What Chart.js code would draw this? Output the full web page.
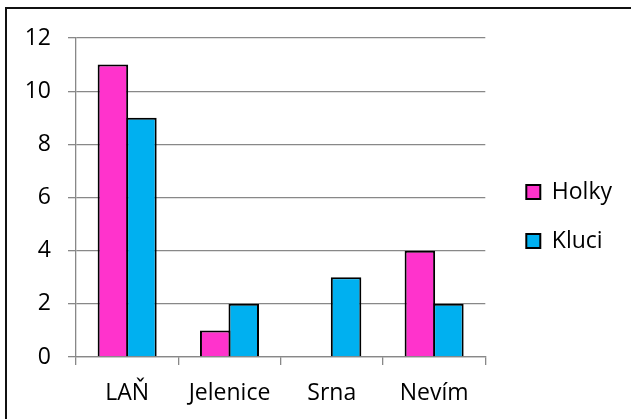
<!DOCTYPE html>
<html>
<head>
<meta charset="utf-8">
<script src="https://cdn.jsdelivr.net/npm/chart.js@4/dist/chart.umd.min.js"></script>
<style>
  html, body { margin: 0; padding: 0; background: #fff; overflow: hidden; }
  #wrap { position: absolute; left: 0; top: 0; width: 631px; height: 419px; }
  #frame { position: absolute; left: 5px; top: 7px; width: 700px; height: 500px;
           border-left: 2px solid #111; border-top: 2px solid #111; pointer-events: none; }
</style>
</head>
<body>
<div id="wrap"><canvas id="c" width="631" height="419"></canvas></div>
<div id="frame"></div>
<script>
const categories = ['LAŇ', 'Jelenice', 'Srna', 'Nevím'];
const holky = [11, 1, 0, 4];
const kluci = [9, 2, 3, 2];
const seriesNames = ['Holky', 'Kluci'];
const yTicks = { min: 0, max: 12, step: 2 };

const FONT = "'Open Sans', 'Noto Sans', sans-serif";
const GRID = '#888888';

const legendShift = {
  id: 'legendShift',
  afterLayout(chart) {
    const l = chart.legend;
    if (l) { l.left += 15; l.right += 15; l.top += 19; l.bottom += 19; }
  }
};

new Chart(document.getElementById('c'), {
  type: 'bar',
  data: {
    labels: categories,
    datasets: [
      { label: seriesNames[0], data: holky, backgroundColor: '#FF33CC', borderColor: '#000', borderWidth: 2,
        categoryPercentage: 0.5575, barPercentage: 1.07 },
      { label: seriesNames[1], data: kluci, backgroundColor: '#00B0F0', borderColor: '#000', borderWidth: 2,
        categoryPercentage: 0.5575, barPercentage: 1.07 }
    ]
  },
  options: {
    responsive: false,
    animation: false,
    devicePixelRatio: 1,
    layout: { padding: { top: 38, left: 0, right: 24, bottom: 0 } },
    plugins: {
      title: { display: false },
      tooltip: { enabled: false },
      legend: {
        position: 'right',
        align: 'center',
        fullSize: false,
        labels: {
          boxWidth: 14, boxHeight: 14, padding: 26, color: '#000',
          font: { family: FONT, size: 23 }
        }
      }
    },
    scales: {
      x: {
        grid: { drawOnChartArea: false, drawTicks: true, tickLength: 8, color: GRID, lineWidth: 1.3, offset: true },
        border: { display: true, color: GRID, width: 1.3 },
        ticks: { color: '#000', padding: 15, font: { family: FONT, size: 23 }, maxRotation: 0 },
        afterFit(scale) { scale.height = 62; }
      },
      y: {
        min: yTicks.min, max: yTicks.max,
        grid: { color: GRID, lineWidth: 1.3, tickLength: 8, drawTicks: true },
        border: { display: true, color: GRID, width: 1.3 },
        ticks: { stepSize: yTicks.step, color: '#000', padding: 17, font: { family: FONT, size: 23 } },
        afterFit(scale) { scale.width = 76; }
      }
    }
  },
  plugins: [legendShift]
});
</script>
</body>
</html>
